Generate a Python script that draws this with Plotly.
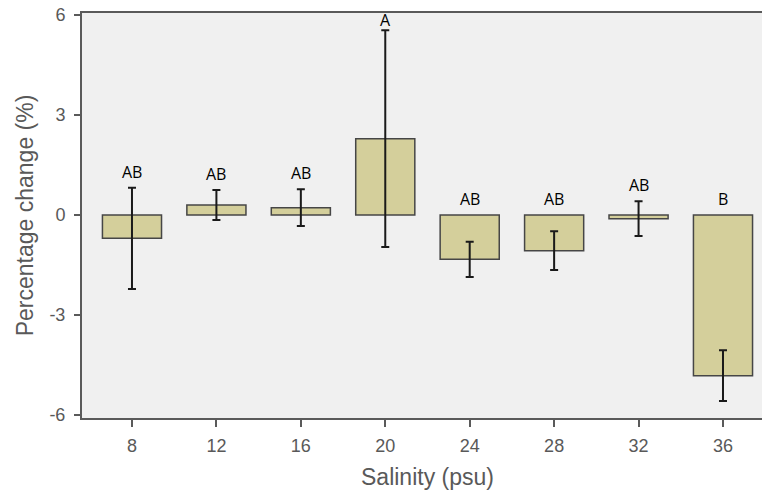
import plotly.graph_objects as go

salinity = ["8", "12", "16", "20", "24", "28", "32", "36"]
mean_change = [-0.70, 0.30, 0.22, 2.29, -1.33, -1.07, -0.11, -4.82]
error = [1.52, 0.45, 0.55, 3.25, 0.53, 0.58, 0.52, 0.76]
letters = ["AB", "AB", "AB", "A", "AB", "AB", "AB", "B"]
y_ticks = [-6, -3, 0, 3, 6]
y_tick_text = ["-6", "-3", "0", "3", "6"]

fig = go.Figure()
fig.add_trace(go.Bar(
    x=list(range(len(salinity))),
    y=mean_change,
    width=0.70,
    marker=dict(color="#d4cf9b", line=dict(color="#464646", width=1.5)),
    error_y=dict(type="data", array=error, visible=True, color="#1a1a1a",
                 thickness=2, width=4),
    hoverinfo="skip",
))

for i, (m, e, lab) in enumerate(zip(mean_change, error, letters)):
    top = max(m + e, m, 0)
    fig.add_annotation(x=i, y=min(top, 5.38), text=lab, showarrow=False,
                       yanchor="middle", yshift=16,
                       font=dict(family="Open Sans", size=16, color="#000000"))

fig.add_annotation(xref="paper", yref="paper", x=(427 - 82) / (762 - 82), y=0,
                   yshift=-59, yanchor="middle", showarrow=False,
                   text="Salinity (psu)",
                   font=dict(family="Liberation Sans", size=23, color="#595959"))

fig.update_layout(
    width=762, height=494,
    margin=dict(l=82, r=0, t=13, b=76),
    paper_bgcolor="white", plot_bgcolor="#f0f0f0",
    showlegend=False,
    bargap=0.3,
)
fig.update_xaxes(
    tickmode="array", tickvals=list(range(len(salinity))), ticktext=salinity,
    range=[-0.592, 7.462], showline=True, linecolor="#5a5a5a", linewidth=2,
    mirror=True, ticks="outside", ticklen=7, tickwidth=2, tickcolor="#5a5a5a",
    showgrid=False, zeroline=False, ticklabelstandoff=3,
    tickfont=dict(family="Liberation Sans", size=18, color="#595959"),
)
fig.update_yaxes(
    tickmode="array", tickvals=y_ticks, ticktext=y_tick_text, range=[-6.09, 6.06],
    showline=True, linecolor="#5a5a5a", linewidth=2,
    ticks="outside", ticklen=6, tickwidth=2, tickcolor="#5a5a5a",
    showgrid=False, zeroline=False, ticklabelstandoff=5,
    tickfont=dict(family="Liberation Sans", size=18, color="#595959"),
    title=dict(text="Percentage change (%)", standoff=9,
               font=dict(family="Liberation Sans", size=23, color="#595959")),
)

fig.write_html("out.html")
